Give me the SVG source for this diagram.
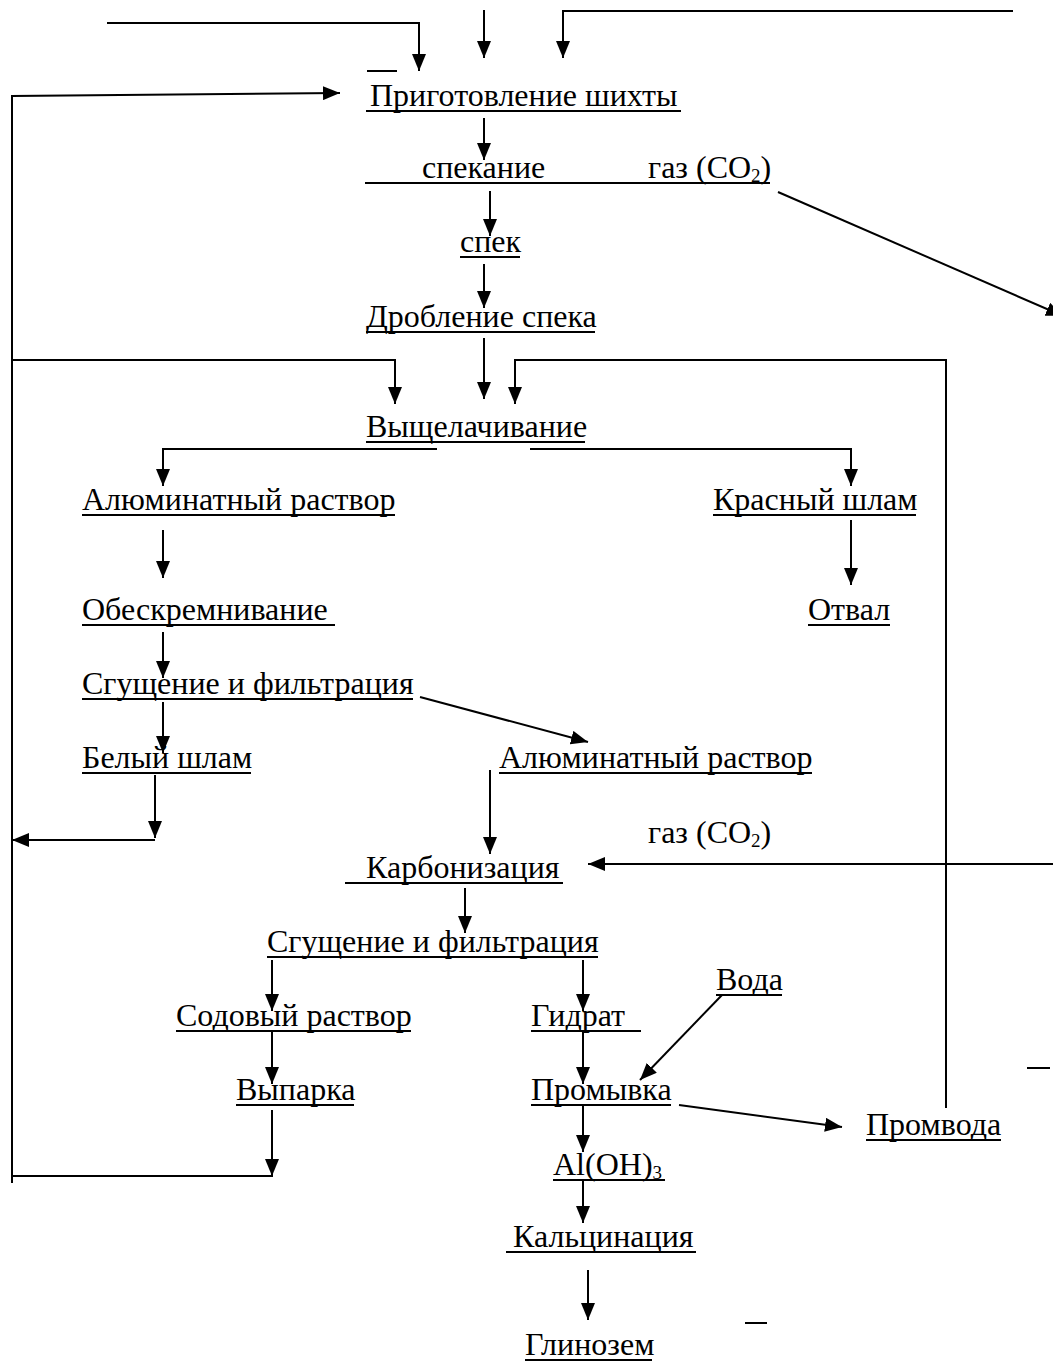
<svg xmlns="http://www.w3.org/2000/svg" width="1053" height="1362" viewBox="0 0 1053 1362">
<style>
text{font-family:"Liberation Serif","Times New Roman",serif;font-size:32px;fill:#000}
.sub{font-size:19px}
.ul{stroke:#000;stroke-width:2}
.c{stroke:#000;stroke-width:2;fill:none}
</style>
<defs>
<marker id="ah" viewBox="0 0 17 14" refX="17" refY="7" markerWidth="17" markerHeight="14" markerUnits="userSpaceOnUse" orient="auto">
<path d="M0,0 L17,7 L0,14 z" fill="#000"/>
</marker>
</defs>
<rect width="1053" height="1362" fill="#fff"/>
<g id="connectors">
<path class="c" d="M107,23 H419 V71" marker-end="url(#ah)"/>
<path class="c" d="M484,10 V58" marker-end="url(#ah)"/>
<path class="c" d="M1013,11 H563 V58" marker-end="url(#ah)"/>
<line class="c" x1="367" y1="71" x2="397" y2="71"/>
<path class="c" d="M12,1183 V96 L340,93" marker-end="url(#ah)"/>
<path class="c" d="M484,118 V160" marker-end="url(#ah)"/>
<path class="c" d="M778,192 L1063,316" marker-end="url(#ah)"/>
<path class="c" d="M490,191 V236" marker-end="url(#ah)"/>
<path class="c" d="M484,264 V308" marker-end="url(#ah)"/>
<path class="c" d="M484,338 V399" marker-end="url(#ah)"/>
<path class="c" d="M12,360 H395 V404" marker-end="url(#ah)"/>
<path class="c" d="M946,1108 V360 H515 V404" marker-end="url(#ah)"/>
<path class="c" d="M437,449 H163 V486" marker-end="url(#ah)"/>
<path class="c" d="M530,449 H851 V486" marker-end="url(#ah)"/>
<path class="c" d="M163,530 V578" marker-end="url(#ah)"/>
<path class="c" d="M851,520 V585" marker-end="url(#ah)"/>
<path class="c" d="M163,632 V678" marker-end="url(#ah)"/>
<path class="c" d="M420,697 L588,742" marker-end="url(#ah)"/>
<path class="c" d="M163,702 V753" marker-end="url(#ah)"/>
<path class="c" d="M155,775 V838" marker-end="url(#ah)"/>
<path class="c" d="M155,840 H12" marker-end="url(#ah)"/>
<path class="c" d="M490,770 V854" marker-end="url(#ah)"/>
<path class="c" d="M1060,864 H588" marker-end="url(#ah)"/>
<path class="c" d="M465,888 V933" marker-end="url(#ah)"/>
<path class="c" d="M272,960 V1011" marker-end="url(#ah)"/>
<path class="c" d="M583,960 V1011" marker-end="url(#ah)"/>
<path class="c" d="M722,995 L640,1080" marker-end="url(#ah)"/>
<path class="c" d="M272,1032 V1084" marker-end="url(#ah)"/>
<path class="c" d="M583,1032 V1084" marker-end="url(#ah)"/>
<path class="c" d="M679,1105 L842,1127" marker-end="url(#ah)"/>
<line class="c" x1="1027" y1="1068" x2="1050" y2="1068"/>
<path class="c" d="M12,1176 H272 V1110" />
<path class="c" d="M272,1140 V1176" marker-end="url(#ah)"/>
<path class="c" d="M583,1105 V1152" marker-end="url(#ah)"/>
<path class="c" d="M583,1180 V1223" marker-end="url(#ah)"/>
<path class="c" d="M588,1270 V1320" marker-end="url(#ah)"/>
<line class="c" x1="745" y1="1323" x2="767" y2="1323"/>
</g>
<g id="n-prigotovlenie"><text x="370" y="106">Приготовление шихты</text><line class="ul" x1="366" y1="111" x2="681" y2="111"/></g>
<g id="n-spekanie"><text x="422" y="178">спекание</text><line class="ul" x1="365" y1="183" x2="770" y2="183"/></g>
<g id="n-gaz1"><text x="648" y="178">газ (CO<tspan class="sub" dy="4">2</tspan><tspan dy="-4">)</tspan></text></g>
<g id="n-spek"><text x="460" y="252">спек</text><line class="ul" x1="460" y1="257" x2="520" y2="257"/></g>
<g id="n-droblenie"><text x="366" y="327">Дробление спека</text><line class="ul" x1="366" y1="332" x2="595" y2="332"/></g>
<g id="n-vyshchelachivanie"><text x="366" y="437">Выщелачивание</text><line class="ul" x1="366" y1="442" x2="585" y2="442"/></g>
<g id="n-alum1"><text x="82" y="510">Алюминатный раствор</text><line class="ul" x1="82" y1="515" x2="395" y2="515"/></g>
<g id="n-krasny"><text x="713" y="510">Красный шлам</text><line class="ul" x1="713" y1="515" x2="916" y2="515"/></g>
<g id="n-obeskr"><text x="82" y="620">Обескремнивание</text><line class="ul" x1="82" y1="625" x2="335" y2="625"/></g>
<g id="n-otval"><text x="808" y="620">Отвал</text><line class="ul" x1="808" y1="625" x2="890" y2="625"/></g>
<g id="n-sgush1"><text x="82" y="694">Сгущение и фильтрация</text><line class="ul" x1="82" y1="699" x2="413" y2="699"/></g>
<g id="n-bely"><text x="82" y="768">Белый шлам</text><line class="ul" x1="82" y1="773" x2="251" y2="773"/></g>
<g id="n-alum2"><text x="499" y="768">Алюминатный раствор</text><line class="ul" x1="499" y1="773" x2="812" y2="773"/></g>
<g id="n-gaz2"><text x="648" y="843">газ (CO<tspan class="sub" dy="4">2</tspan><tspan dy="-4">)</tspan></text></g>
<g id="n-karbon"><text x="366" y="878">Карбонизация</text><line class="ul" x1="345" y1="883" x2="563" y2="883"/></g>
<g id="n-sgush2"><text x="267" y="952">Сгущение и фильтрация</text><line class="ul" x1="267" y1="957" x2="598" y2="957"/></g>
<g id="n-voda"><text x="716" y="990">Вода</text><line class="ul" x1="716" y1="995" x2="782" y2="995"/></g>
<g id="n-sodovy"><text x="176" y="1026">Содовый раствор</text><line class="ul" x1="176" y1="1031" x2="411" y2="1031"/></g>
<g id="n-gidrat"><text x="531" y="1026">Гидрат</text><line class="ul" x1="531" y1="1031" x2="641" y2="1031"/></g>
<g id="n-vyparka"><text x="236" y="1100">Выпарка</text><line class="ul" x1="236" y1="1105" x2="354" y2="1105"/></g>
<g id="n-promyvka"><text x="531" y="1100">Промывка</text><line class="ul" x1="531" y1="1105" x2="671" y2="1105"/></g>
<g id="n-promvoda"><text x="866" y="1135">Промвода</text><line class="ul" x1="866" y1="1140" x2="1001" y2="1140"/></g>
<g id="n-aloh"><text x="553" y="1175">Al(OH)<tspan class="sub" dy="4">3</tspan></text><line class="ul" x1="553" y1="1180" x2="665" y2="1180"/></g>
<g id="n-kalc"><text x="513" y="1247">Кальцинация</text><line class="ul" x1="506" y1="1252" x2="696" y2="1252"/></g>
<g id="n-glinozem"><text x="525" y="1355">Глинозем</text><line class="ul" x1="525" y1="1360" x2="652" y2="1360"/></g>
</svg>
